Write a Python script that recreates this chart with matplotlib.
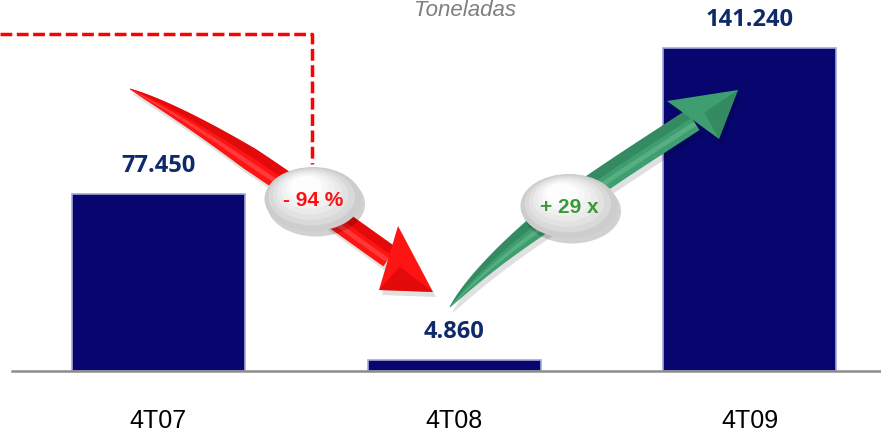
import numpy as np
import matplotlib
matplotlib.use("Agg")
from matplotlib import pyplot as plt
from matplotlib.patches import Polygon, Ellipse

# Data
categories = ["4T07", "4T08", "4T09"]
toneladas = [77450, 4860, 141240]
value_labels = ["77.450", "4.860", "141.240"]
change_down = "- 94 %"
change_up = "+ 29 x"

W, H = 881, 435
NAVY = "#06066e"
LABEL_BLUE = "#0f2a6a"


def bezier(p0, p1, p2, p3, n=80):
    t = np.linspace(0, 1, n)[:, None]
    p0, p1, p2, p3 = map(np.asarray, (p0, p1, p2, p3))
    pts = ((1 - t) ** 3) * p0 + 3 * ((1 - t) ** 2) * t * p1 + 3 * (1 - t) * t ** 2 * p2 + t ** 3 * p3
    d = (-3 * (1 - t) ** 2) * p0 + (3 * (1 - t) ** 2 - 6 * (1 - t) * t) * p1 \
        + (6 * (1 - t) * t - 3 * t ** 2) * p2 + 3 * t ** 2 * p3
    return pts, d, t


def draw_arrow(ax, ctrl, head, width, base, dark, light):
    pts, d, t = bezier(*ctrl)
    nrm = np.column_stack([-d[:, 1], d[:, 0]])
    nrm /= np.linalg.norm(nrm, axis=1)[:, None]
    # tapered tail, full width from about halfway
    w = np.maximum(np.clip(t / 0.45, 0, 1) ** 0.7 * width / 2, 0.5)
    upper = pts + nrm * w
    lower = pts - nrm * w
    shaft = np.vstack([upper, lower[::-1]])
    ax.add_patch(Polygon(shaft + [3, 5], closed=True, fc="#000000", ec="none", alpha=0.12, zorder=3))
    ax.add_patch(Polygon(np.array(head) + [3, 5], closed=True, fc="#000000", ec="none", alpha=0.12, zorder=3))
    ax.add_patch(Polygon(shaft, closed=True, fc=base, ec="none", zorder=4))
    # darker side and light stripe for a bevel look
    half = np.vstack([pts - nrm * w * 0.2, lower[::-1]])
    ax.add_patch(Polygon(half, closed=True, fc=dark, ec="none", alpha=0.45, zorder=4))
    hl = np.vstack([pts + nrm * w * 0.55, (pts + nrm * w * 0.15)[::-1]])
    ax.add_patch(Polygon(hl, closed=True, fc=light, ec="none", alpha=0.3, zorder=4))
    tip, c1, c2 = [np.array(p, float) for p in head]
    mid = (c1 + c2) / 2 + (tip - (c1 + c2) / 2) * 0.25
    ax.add_patch(Polygon([tip, c1, c2], closed=True, fc=base, ec="none", zorder=5))
    ax.add_patch(Polygon([tip, mid, c2], closed=True, fc=dark, ec="none", alpha=0.45, zorder=5))


def draw_bubble(ax, cx, cy, text, color):
    ax.add_patch(Ellipse((cx + 3, cy + 5), 98, 65, fc="#000000", ec="none", alpha=0.18, zorder=6))
    shades = ["#cdcdcd", "#d9d9d9", "#e2e2e2", "#eaeaea", "#f1f1f1", "#f7f7f7", "#fdfdfd"]
    for i, c in enumerate(shades):
        k = 1 - i * 0.11
        ax.add_patch(Ellipse((cx - i * 1.2, cy - i * 2.0), 97 * k, 64 * k, fc=c, ec="none", zorder=7))
    ax.text(cx, cy + 1, text, color=color, fontsize=15, fontweight="bold",
            fontfamily=["Liberation Sans", "DejaVu Sans"], ha="center", va="center", zorder=8)


fig = plt.figure(figsize=(W / 100, H / 100), dpi=100)

# Bar axes: baseline 63 px above the bottom edge
ax = fig.add_axes([12 / W, 63 / H, 1 - 12 / W, 1 - 63 / H])
x = np.arange(len(categories))
ax.bar(x, toneladas, width=0.585, color=NAVY, edgecolor="#a6a6d8", linewidth=1.2, zorder=2)
ax.set_xlim(-0.495, 2.443)
ax.set_ylim(0, 162800)
for xi, v, lab in zip(x, toneladas, value_labels):
    ax.annotate(lab, (xi, v), xytext=(0, 21), textcoords="offset points",
                ha="center", va="center", fontsize=17, fontweight="bold",
                fontfamily=["Open Sans", "DejaVu Sans"], color=LABEL_BLUE)
for s in ["top", "right", "left"]:
    ax.spines[s].set_visible(False)
ax.spines["bottom"].set_color("#8c8c8c")
ax.spines["bottom"].set_linewidth(1.8)
ax.set_yticks([])
ax.set_xticks(x)
ax.set_xticklabels(categories, fontsize=18, fontfamily=["Liberation Sans", "DejaVu Sans"])
ax.tick_params(axis="x", length=0, pad=27)

# Overlay in pixel coordinates for arrows and callouts
ov = fig.add_axes([0, 0, 1, 1], zorder=5)
ov.set_xlim(0, W)
ov.set_ylim(H, 0)
ov.axis("off")
ov.patch.set_alpha(0)

ov.plot([0, 312, 312], [35, 35, 165], color="#ff0000", lw=2.5,
        linestyle=(0, (3.4, 1.3)), zorder=2)

draw_arrow(ov, [(130, 90), (215, 130), (315, 205), (390, 258)],
           [(433, 293), (398, 227), (379, 291)], 23, "#ff1414", "#c00000", "#ff9090")
draw_arrow(ov, [(450, 308), (505, 240), (615, 172), (693, 121)],
           [(738, 91), (667, 102), (719, 140)], 24, "#3f9e70", "#2a7550", "#8fd6b0")

draw_bubble(ov, 313, 200, change_down, "#ff1010")
draw_bubble(ov, 569, 207, change_up, "#3a9a3a")

fig.text(465 / W, 1 - 11 / H, "Toneladas", color="#7f7f7f", fontsize=16, style="italic",
         fontfamily=["Liberation Sans", "DejaVu Sans"], ha="center", va="center")

fig.savefig("out.png", dpi=100)
